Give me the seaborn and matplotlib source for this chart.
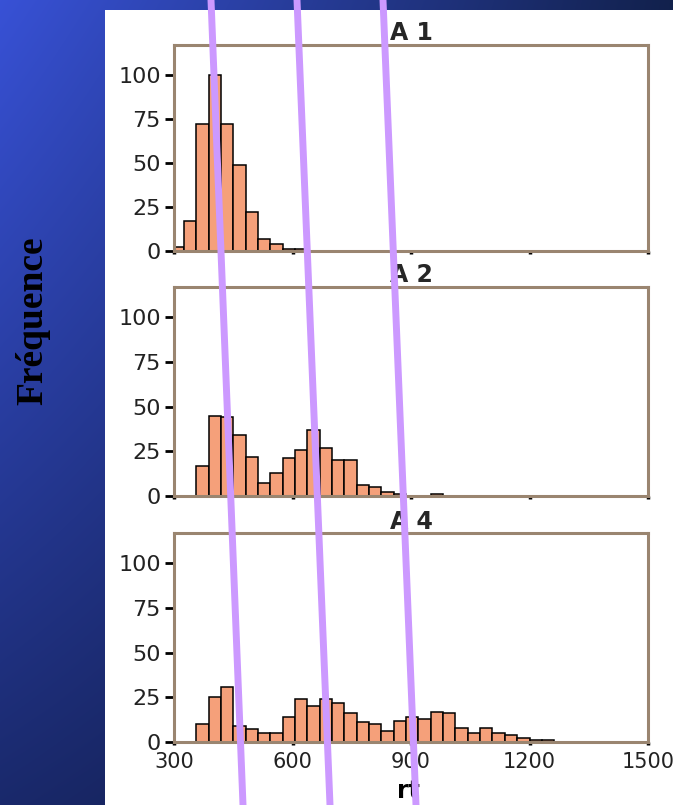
import numpy as np
import pandas as pd
import matplotlib
matplotlib.use('Agg')
import matplotlib.pyplot as plt
from matplotlib.lines import Line2D
from matplotlib.patches import Rectangle
import seaborn as sns

# Données (effectifs par classe de rt)
bin_start = 293.75
bin_width = 31.25

counts_a1 = [2, 17, 72, 100, 72, 49, 22, 7, 4, 1, 1]
counts_a2 = [0, 0, 17, 45, 44, 34, 22, 7, 13, 21, 26, 37, 27, 20, 20, 6, 5, 2, 1, 0, 0, 1]
counts_a4 = [0, 0, 10, 25, 31, 9, 7, 5, 5, 14, 24, 20, 24, 22, 16, 11, 10, 6, 12,
             14, 13, 17, 16, 8, 5, 8, 5, 4, 2, 1, 1]
titles = ['A 1', 'A 2', 'A 4']
x_ticks = [300, 600, 900, 1200, 1500]
y_ticks = [0, 25, 50, 75, 100]

sns.set_style('white')
plt.rcParams['font.family'] = ['DejaVu Sans']

W, H = 673, 805
fig = plt.figure(figsize=(W / 100, H / 100), dpi=100)

# Fond de diapositive (dégradé bleu)
bg = fig.add_axes([0, 0, 1, 1], zorder=-10)
u = np.linspace(0, 1, W)[None, :, None]
v = np.linspace(0, 1, H)[:, None, None]
c_tl = np.array([0.22, 0.32, 0.84])
c_tr = np.array([0.07, 0.13, 0.30])
c_bl = np.array([0.10, 0.16, 0.42])
c_br = np.array([0.05, 0.08, 0.20])
grad = (c_tl * (1 - u) * (1 - v) + c_tr * u * (1 - v)
        + c_bl * (1 - u) * v + c_br * u * v)
bg.imshow(grad, aspect='auto', extent=[0, 1, 0, 1])
bg.axis('off')

fig.add_artist(Rectangle((105 / W, 0), 1 - 105 / W, 1 - 10 / H,
                         transform=fig.transFigure, facecolor='white',
                         edgecolor='none', zorder=-5))

left = 174 / W
width = (648 - 174) / W
panels = [(251, 206), (496, 209), (742, 209)]

for i, (counts, title) in enumerate(zip([counts_a1, counts_a2, counts_a4], titles)):
    bottom_px, height_px = panels[i]
    ax = fig.add_axes([left, 1 - bottom_px / H, width, height_px / H])
    edges = [bin_start + bin_width * k for k in range(len(counts) + 1)]
    df = pd.DataFrame({'rt': [e + bin_width / 2 for e in edges[:-1]], 'n': counts})
    sns.histplot(data=df, x='rt', weights='n', bins=edges, ax=ax,
                 color='#f5a07a', alpha=1, edgecolor='black', linewidth=1.1)
    ax.set_xlim(300, 1500)
    ax.set_ylim(0, 117)
    ax.set_xticks(x_ticks)
    ax.set_yticks(y_ticks)
    ax.set_xlabel('')
    ax.set_ylabel('')
    ax.set_facecolor('white')
    ax.set_title(title, fontsize=17, fontweight='bold', pad=3)
    for s in ax.spines.values():
        s.set_visible(True)
        s.set_color('#9a8570')
        s.set_linewidth(2.2)
    ax.tick_params(axis='y', left=True, direction='out', length=6.5, width=2,
                   color='black', labelsize=16, pad=3, labelcolor='#222222')
    ax.tick_params(axis='x', bottom=True, direction='out', length=2.5, width=2.5,
                   color='black', labelsize=15, pad=5, labelcolor='#222222',
                   labelbottom=(i == 2))

fig.text(33 / W, 1 - 321 / H, 'Fréquence', rotation=90, ha='center', va='center',
         family=['Liberation Serif', 'DejaVu Serif'], fontweight='bold',
         fontsize=27, color='black')
fig.text(408 / W, 2 / H, 'rt', ha='center', va='bottom', fontsize=17,
         fontweight='bold', color='black')

# Traits violets superposés
for x0, x1 in [(211, 243), (297, 330), (383, 416)]:
    fig.add_artist(Line2D([x0 / W, x1 / W], [1, 0], transform=fig.transFigure,
                          color='#cc99ff', linewidth=5, zorder=10))

fig.savefig('out.png', dpi=100)
